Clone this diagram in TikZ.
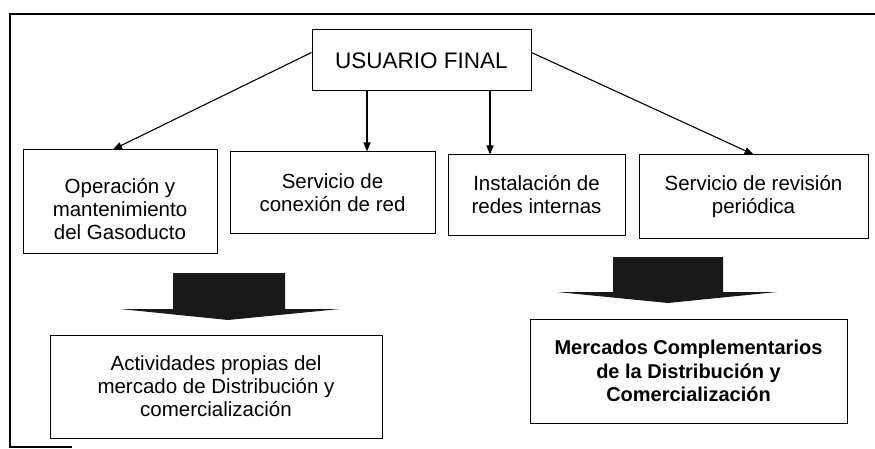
\documentclass[tikz,border=0pt]{standalone}
\usepackage{fontspec}
\setmainfont{Liberation Sans}
\usetikzlibrary{arrows.meta}
\begin{document}
\begin{tikzpicture}[x=1pt,y=1pt]
            \tikzstyle{every node}+=[inner sep=0pt]
            \tikzstyle{caja}=[draw=black, line width=1pt, align=center, font=\fontsize{20.5}{23}\selectfont]
            \tikzstyle{flecha}=[draw=black, line width=1.1pt, -{Triangle[length=9pt,width=7pt]}]
            \useasboundingbox (0,0) rectangle (875,-449);
            \draw [black, line width=1.5pt] (875,-14) -- (10,-14) -- (10,-447) -- (72,-447);
            \node [caja, minimum width=219pt, minimum height=61pt, font=\fontsize{22.5}{26}\selectfont] (usuario) at (421.5,-60.5) {USUARIO FINAL};
            \node [caja, minimum width=194pt, minimum height=103pt] (operacion) at (120,-201.5) {\rule{0pt}{31pt}Operación y\\mantenimiento\\del Gasoducto};
            \node [caja, minimum width=205pt, minimum height=81pt] (conexion) at (332.5,-192.5) {Servicio de\\conexión de red};
            \node [caja, minimum width=177pt, minimum height=80pt] (instalacion) at (536.5,-195) {Instalación de\\redes internas};
            \node [caja, minimum width=229pt, minimum height=83pt] (revision) at (753.5,-196.5) {Servicio de revisión\\periódica};
            \node [caja, minimum width=332pt, minimum height=103pt] (actividades) at (216,-386.5) {Actividades propias del\\mercado de Distribución y\\comercialización};
            \node [caja, minimum width=317pt, minimum height=104pt, font=\fontsize{20}{23.5}\selectfont\bfseries] (mercados) at (688.5,-371) {Mercados Complementarios\\de la Distribución y\\Comercialización};
            \draw [flecha] ([yshift=8pt]usuario.west) -- ([xshift=-7pt]operacion.north);
            \draw [flecha] ([xshift=-54.5pt]usuario.south) -- ([xshift=-54.5pt]usuario.south |- conexion.north);
            \draw [flecha] ([xshift=68.5pt]usuario.south) -- ([xshift=68.5pt]usuario.south |- instalacion.north);
            \draw [flecha] ([yshift=8pt]usuario.east) -- (revision.north);
            \fill [black!90] (173,-273) -- (285,-273) -- (285,-309) -- (340,-309) -- (228,-320) -- (120,-309) -- (173,-309) -- cycle;
            \fill [black!90] (613,-257) -- (723,-257) -- (723,-292) -- (777,-292) -- (668,-303) -- (557,-292) -- (613,-292) -- cycle;
        \end{tikzpicture}
\end{document}
